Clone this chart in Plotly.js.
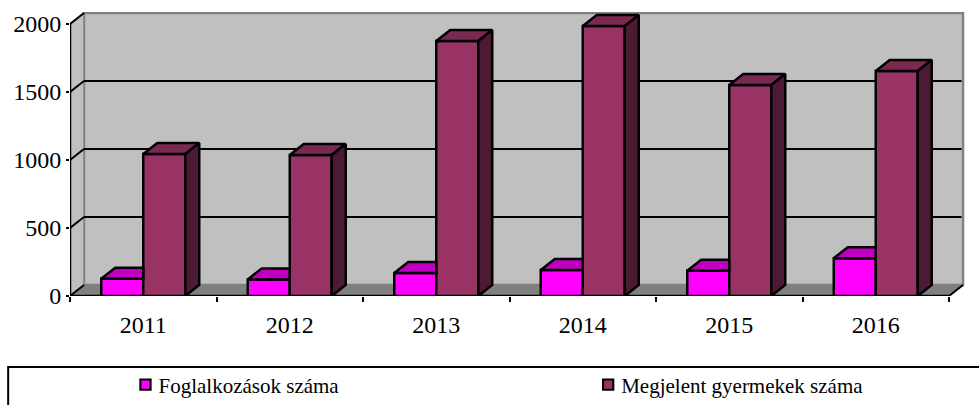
<!DOCTYPE html>
<html><head><meta charset="utf-8">
<script src="https://cdn.plot.ly/plotly-3.0.1.min.js"></script>
<style>html,body{margin:0;padding:0;background:#fff;overflow:hidden}</style>
</head><body><div id="c" style="width:979px;height:405px"></div>
<script>
const categories = ['2011','2012','2013','2014','2015','2016'];
const foglalkozasok = [127,122,169,191,186,278];
const gyermekek = [1044,1037,1875,1985,1551,1654];
const yTicks = [0,500,1000,1500,2000];
const seriesNames = ['Foglalkozások száma','Megjelent gyermekek száma'];

const idx = categories.map((_,i)=>i);
const BW = 42/146.5, DX = 14/146.5, DY = 81, X0=-0.5, X1=5.5, YT=2000;
const serif = '"Liberation Serif","Times New Roman",serif';
const OUT = 2.5;

function poly(fn, vals){ const xs=[],ys=[]; vals.forEach((v,i)=>{ fn(i,v).forEach(p=>{xs.push(p[0]);ys.push(p[1]);}); xs.push(null);ys.push(null);}); return {x:xs,y:ys}; }
function polyTrace(p,color){ return {type:'scatter',mode:'lines',x:p.x,y:p.y,fill:'toself',fillcolor:color,line:{color:'#000',width:OUT,simplify:false},showlegend:false,hoverinfo:'skip'}; }

const pinkTop = poly((i,v)=>[[i-BW,v],[i,v],[i,v+DY],[i-BW+DX,v+DY],[i-BW,v]], foglalkozasok);
const purTop  = poly((i,v)=>[[i,v],[i+BW,v],[i+BW+DX,v+DY],[i+DX,v+DY],[i,v]], gyermekek);
const purSide = poly((i,v)=>[[i+BW,0],[i+BW+DX,DY],[i+BW+DX,v+DY],[i+BW,v],[i+BW,0]], gyermekek);

const traces = [
 {type:'bar',name:seriesNames[0],x:idx,y:foglalkozasok,legend:'legend',marker:{color:'#FF00FF',line:{color:'#000',width:OUT}}},
 {type:'bar',name:seriesNames[1],x:idx,y:gyermekek,legend:'legend2',marker:{color:'#993366',line:{color:'#000',width:OUT}}},
 polyTrace(pinkTop,'#C000C0'),
 polyTrace(purTop,'#7A2952'),
 polyTrace(purSide,'#4D1A33')
];

const shapes = [
 {type:'rect',layer:'below',x0:X0+DX,x1:X1+DX,y0:DY,y1:YT+DY,fillcolor:'#C0C0C0',line:{color:'#808080',width:2.5}},
 {type:'path',layer:'below',path:`M${X0},0 L${X0+DX},${DY} L${X0+DX},${YT+DY} L${X0},${YT} Z`,fillcolor:'#C0C0C0',line:{color:'#808080',width:1.5}},
 {type:'path',layer:'below',path:`M${X0},0 L${X1},0 L${X1+DX},${DY} L${X0+DX},${DY} Z`,fillcolor:'#808080',line:{color:'#808080',width:1}}
];
yTicks.slice(1,-1).forEach(t=>{
 shapes.push({type:'line',layer:'below',x0:X0+DX,x1:X1+DX-0.01,y0:t+DY,y1:t+DY,line:{color:'#000',width:2}});
});
yTicks.forEach(t=>{
 shapes.push({type:'line',layer:'below',x0:X0,x1:X0+DX,y0:t,y1:t+DY,line:{color:'#000',width:2}});
});
shapes.push({type:'line',layer:'below',x0:X1,x1:X1+DX,y0:0,y1:DY,line:{color:'#000',width:2}});
shapes.push({type:'line',layer:'below',x0:X0,x1:X1,y0:0,y1:0,line:{color:'#000',width:2.5}});
shapes.push({type:'line',layer:'below',x0:X0,x1:X0,y0:0,y1:YT,line:{color:'#000',width:2.5}});
// legend frame
shapes.push({type:'rect',xref:'paper',yref:'paper',x0:-0.069,x1:1.1,y0:-0.5,y1:-0.25,line:{color:'#000',width:2},fillcolor:'rgba(0,0,0,0)'});

const legendBase = {orientation:'v',xref:'paper',yref:'paper',y:-0.241,xanchor:'left',yanchor:'top',font:{size:21,family:serif,color:'#000'},bgcolor:'rgba(0,0,0,0)',borderwidth:0};
const layout = {
 width:979,height:405,margin:{l:70,r:13,t:12,b:109,pad:0,autoexpand:false},
 paper_bgcolor:'#fff',plot_bgcolor:'#fff',
 barmode:'group',bargap:1-84/146.5,bargroupgap:0,
 font:{family:serif,color:'#000'},
 xaxis:{range:[-0.5,5.616],tickmode:'array',tickvals:idx,ticktext:categories,ticks:'outside',ticklen:7,tickcolor:'rgba(0,0,0,0)',
   tickfont:{size:24,family:serif,color:'#000'},showgrid:false,zeroline:false,showline:false,
   minor:{tickmode:'array',tickvals:[0,1,2,3,4,5,6].map(v=>v-0.5),ticks:'outside',ticklen:5,tickwidth:2,tickcolor:'#000',showgrid:false}},
 yaxis:{range:[0,2088.2],tickmode:'array',tickvals:yTicks,ticktext:yTicks.map(String),ticks:'outside',ticklen:3,tickwidth:2,tickcolor:'#000',
   tickfont:{size:24,family:serif,color:'#000'},showgrid:false,zeroline:false,showline:false},
 showlegend:true,
 legend:Object.assign({},legendBase,{x:0.0541}),
 legend2:Object.assign({},legendBase,{x:0.5705}),
 shapes:shapes
};
Plotly.newPlot('c',traces,layout,{displayModeBar:false,staticPlot:true}).then(gd=>{
 // Legend text gap is fixed by the library: nudge the swatches to sit closer to their labels.
 gd.querySelectorAll('.legendpoints').forEach(g=>{
   g.setAttribute('transform',(g.getAttribute('transform')||'')+' translate(10,0) scale(0.85)');
 });
});
</script></body></html>
